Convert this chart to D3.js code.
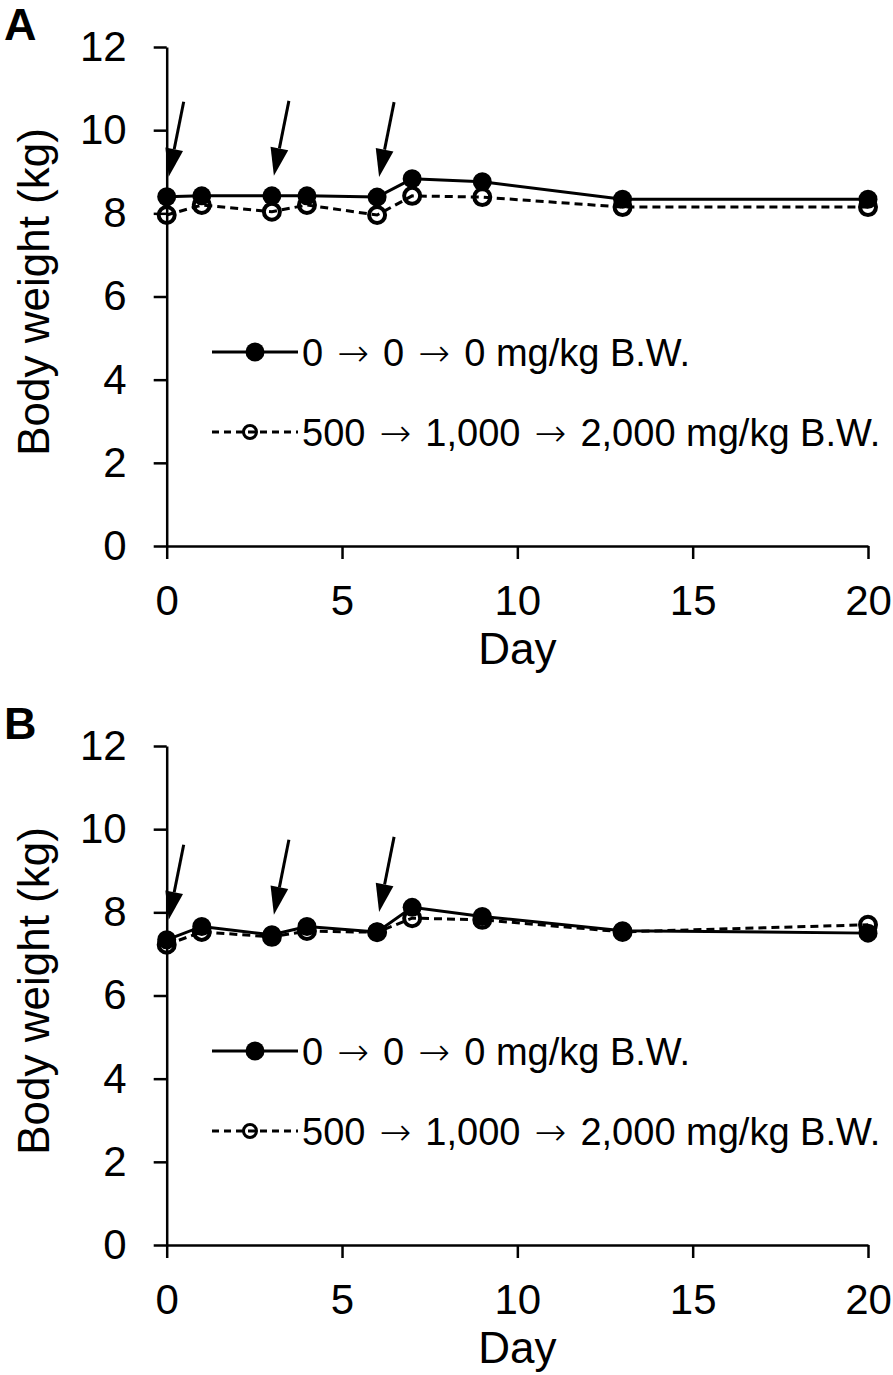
<!DOCTYPE html>
<html>
<head>
<meta charset="utf-8">
<script src="https://cdn.jsdelivr.net/npm/d3@7"></script>
<style>
  html, body { margin: 0; padding: 0; background: #fff; }
  svg { display: block; }
  text { font-family: "Liberation Sans", Arial, sans-serif; fill: #000; }
</style>
</head>
<body>
<svg id="chart" width="893" height="1375"></svg>
<script>
// ---- data ----
const days = [0, 1, 3, 4, 6, 7, 9, 13, 20];
const controlA = [8.40, 8.42, 8.42, 8.42, 8.39, 8.83, 8.76, 8.34, 8.34];
const treatedA = [7.96, 8.20, 8.04, 8.20, 7.96, 8.42, 8.39, 8.15, 8.15];
const controlB = [7.34, 7.66, 7.46, 7.66, 7.53, 8.12, 7.90, 7.56, 7.50];
const treatedB = [7.22, 7.53, 7.41, 7.55, 7.52, 7.86, 7.82, 7.53, 7.70];
const doseDays = [0, 3, 6];
const xTicks = [0, 5, 10, 15, 20];
const yTicks = [0, 2, 4, 6, 8, 10, 12];
const panelLabels = ["A", "B"];
const seriesNames = ["0 \u2192 0 \u2192 0 mg/kg B.W.", "500 \u2192 1,000 \u2192 2,000 mg/kg B.W."];
const xTitle = "Day";
const yTitle = "Body weight (kg)";

const panels = [
  { label: panelLabels[0], control: controlA, treated: treatedA, offset: 0 },
  { label: panelLabels[1], control: controlB, treated: treatedB, offset: 699 }
];

const svg = d3.select("#chart");
const x = d3.scaleLinear().domain([0, 20]).range([166.7, 868]);
const y = d3.scaleLinear().domain([0, 12]).range([546, 47]);

panels.forEach(p => {
  const g = svg.append("g").attr("transform", `translate(0,${p.offset})`);

  g.append("text").attr("x", 4).attr("y", 40)
    .style("font-size", "45px").style("font-weight", "bold").text(p.label);

  // axes
  const yAxis = g.append("g").attr("transform", `translate(${x(0)},0)`)
    .call(d3.axisLeft(y).tickValues(yTicks).tickSize(13).tickSizeOuter(0).tickPadding(27));
  const xAxis = g.append("g").attr("transform", `translate(0,${y(0)})`)
    .call(d3.axisBottom(x).tickValues(xTicks).tickSize(13).tickSizeOuter(0).tickPadding(26));
  [yAxis, xAxis].forEach(a => {
    a.selectAll("path, line").attr("stroke", "#000").attr("stroke-width", 2.5);
    a.selectAll("text").style("font-size", "42px").style("font-family", "'Liberation Sans', Arial, sans-serif").attr("fill", "#000");
  });

  g.append("text").attr("x", (x(0) + x(20)) / 2).attr("y", 664)
    .attr("text-anchor", "middle").style("font-size", "44px").text(xTitle);
  g.append("text").attr("transform", `translate(49,292) rotate(-90)`)
    .attr("text-anchor", "middle").style("font-size", "44px").text(yTitle);

  const line = d3.line().x((d, i) => x(days[i])).y(d => y(d));

  // treated series (dashed, open)
  g.append("path").datum(p.treated).attr("d", line)
    .attr("fill", "none").attr("stroke", "#000").attr("stroke-width", 3)
    .attr("stroke-dasharray", "8,5");
  g.selectAll(".open").data(p.treated).enter().append("circle")
    .attr("cx", (d, i) => x(days[i])).attr("cy", d => y(d)).attr("r", 8)
    .attr("fill", "none").attr("stroke", "#000").attr("stroke-width", 4);

  // control series (solid, filled)
  g.append("path").datum(p.control).attr("d", line)
    .attr("fill", "none").attr("stroke", "#000").attr("stroke-width", 3);
  g.selectAll(".filled").data(p.control).enter().append("circle")
    .attr("cx", (d, i) => x(days[i])).attr("cy", d => y(d)).attr("r", 9.5)
    .attr("fill", "#000");

  // dose arrows
  doseDays.forEach(dd => {
    const idx = days.indexOf(dd);
    const px = x(dd), py = y(p.control[idx]);
    const tip = [px + 2, py - 20], top = [px + 17, py - 95];
    const ang = Math.atan2(tip[1] - top[1], tip[0] - top[0]);
    const hl = 28, hw = 9;
    const bx = tip[0] - hl * Math.cos(ang), by = tip[1] - hl * Math.sin(ang);
    g.append("line").attr("x1", top[0]).attr("y1", top[1]).attr("x2", bx).attr("y2", by)
      .attr("stroke", "#000").attr("stroke-width", 3);
    g.append("path").attr("d",
      `M${tip[0]},${tip[1]} L${bx + hw * Math.sin(ang)},${by - hw * Math.cos(ang)} L${bx - hw * Math.sin(ang)},${by + hw * Math.cos(ang)} Z`)
      .attr("fill", "#000");
  });

  // legend
  const lg = g.append("g");
  const rows = [
    { name: seriesNames[0], dash: null, filled: true, yy: 352 },
    { name: seriesNames[1], dash: "7,5", filled: false, yy: 432 }
  ];
  rows.forEach(r => {
    lg.append("line").attr("x1", 212).attr("x2", 298).attr("y1", r.yy).attr("y2", r.yy)
      .attr("stroke", "#000").attr("stroke-width", 3).attr("stroke-dasharray", r.dash);
    if (r.filled) {
      lg.append("circle").attr("cx", 255).attr("cy", r.yy).attr("r", 9.5).attr("fill", "#000");
    } else {
      lg.append("circle").attr("cx", 250).attr("cy", r.yy).attr("r", 6.5).attr("fill", "none")
        .attr("stroke", "#000").attr("stroke-width", 3);
    }
    const t = lg.append("text").attr("x", 302).attr("y", r.yy).attr("dy", "0.36em")
      .style("font-size", "38px");
    const parts = r.name.split("\u2192");
    parts.forEach((part, i) => {
      if (i > 0) {
        t.append("tspan").attr("dx", 3.5).style("font-family", "'DejaVu Sans', sans-serif")
          .style("font-size", "38px").style("font-weight", "200").text("\u2192");
        t.append("tspan").attr("dx", 3.5).text(part);
      } else {
        t.append("tspan").text(part);
      }
    });
  });
});
</script>
</body>
</html>
